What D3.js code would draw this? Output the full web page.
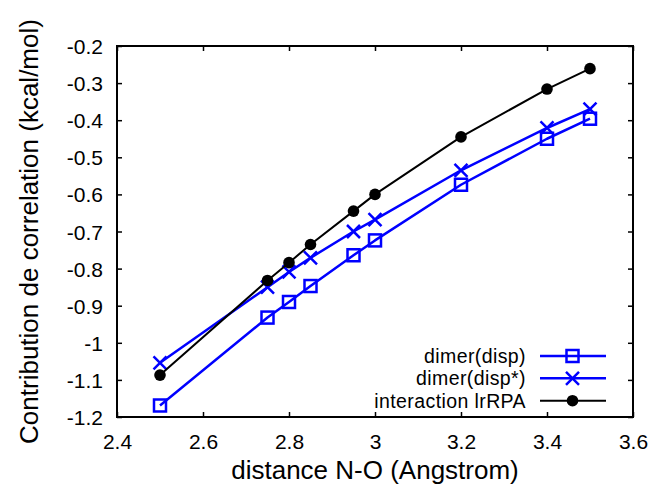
<!DOCTYPE html>
<html><head><meta charset="utf-8">
<script src="https://cdn.jsdelivr.net/npm/d3@7"></script>
<style>body{margin:0;background:#fff}svg{display:block;font-family:"Liberation Sans",Arial,sans-serif}</style>
</head><body><svg id="c" width="651" height="485"></svg>
<script>
const distances = [2.5, 2.75, 2.8, 2.85, 2.95, 3.0, 3.2, 3.4, 3.5];
const dimerDisp = [-1.169, -0.932, -0.89, -0.847, -0.764, -0.724, -0.574, -0.45, -0.396];
const dimerDispStar = [-1.054, -0.85, -0.809, -0.771, -0.70, -0.668, -0.535, -0.421, -0.37];
const interactionLrRPA = [-1.087, -0.832, -0.784, -0.735, -0.645, -0.60, -0.445, -0.316, -0.261];
const xTicks = [2.4, 2.6, 2.8, 3.0, 3.2, 3.4, 3.6];
const xTickLabels = ["2.4", "2.6", "2.8", "3", "3.2", "3.4", "3.6"];
const yTicks = [-1.2, -1.1, -1.0, -0.9, -0.8, -0.7, -0.6, -0.5, -0.4, -0.3, -0.2];
const yTickLabels = ["-1.2", "-1.1", "-1", "-0.9", "-0.8", "-0.7", "-0.6", "-0.5", "-0.4", "-0.3", "-0.2"];
const seriesNames = ["dimer(disp)", "dimer(disp*)", "interaction lrRPA"];

const series = [
  {name: seriesNames[0], values: dimerDisp, color: "#0000ff", marker: "square", width: 2.5},
  {name: seriesNames[1], values: dimerDispStar, color: "#0000ff", marker: "cross", width: 2.5},
  {name: seriesNames[2], values: interactionLrRPA, color: "#000000", marker: "circle", width: 2}
];

const L = 117, R = 633, T = 46, B = 417;
const svg = d3.select("#c");
const x = d3.scaleLinear().domain([2.4, 3.6]).range([L, R]);
const y = d3.scaleLinear().domain([-1.2, -0.2]).range([B, T]);

const fs = 21;
const gB = svg.append("g").attr("transform", `translate(0,${B})`)
  .call(d3.axisBottom(x).tickValues(xTicks).tickSize(-5).tickPadding(14).tickFormat((d,i)=>xTickLabels[i]));
const gT = svg.append("g").attr("transform", `translate(0,${T})`)
  .call(d3.axisTop(x).tickValues(xTicks).tickSize(-5).tickFormat(""));
const gL = svg.append("g").attr("transform", `translate(${L},0)`)
  .call(d3.axisLeft(y).tickValues(yTicks).tickSize(-5).tickPadding(14).tickFormat((d,i)=>yTickLabels[i]));
const gR = svg.append("g").attr("transform", `translate(${R},0)`)
  .call(d3.axisRight(y).tickValues(yTicks).tickSize(-5).tickFormat(""));
[gB,gT,gL,gR].forEach(g=>{
  g.select(".domain").remove();
  g.selectAll(".tick line").attr("stroke","#000").attr("stroke-width",1.5);
  g.selectAll(".tick text").attr("font-size",fs).attr("fill","#000").attr("font-family","Liberation Sans, Arial, sans-serif");
});
gB.selectAll(".tick text").attr("dy",null).attr("y",32);
gL.selectAll(".tick text").attr("dy","0.36em");
svg.append("rect").attr("x",L).attr("y",T).attr("width",R-L).attr("height",B-T)
  .attr("fill","none").attr("stroke","#000").attr("stroke-width",2);

svg.append("text").attr("x",(L+R)/2).attr("y",479).attr("text-anchor","middle")
  .attr("font-size",26).text("distance N-O (Angstrom)");
svg.append("text").attr("transform",`translate(38,${(T+B)/2}) rotate(-90)`).attr("text-anchor","middle")
  .attr("font-size",26).text("Contribution de correlation (kcal/mol)");

function drawMarker(g, type, cx, cy, color){
  if(type==="square"){
    g.append("rect").attr("x",cx-6).attr("y",cy-6).attr("width",12).attr("height",12)
      .attr("fill","none").attr("stroke",color).attr("stroke-width",2.5);
  } else if(type==="cross"){
    const s=6.5;
    g.append("path").attr("d",`M${cx-s},${cy-s}L${cx+s},${cy+s}M${cx-s},${cy+s}L${cx+s},${cy-s}`)
      .attr("stroke",color).attr("stroke-width",2.5).attr("fill","none");
  } else {
    g.append("circle").attr("cx",cx).attr("cy",cy).attr("r",5.8).attr("fill",color);
  }
}

const line = d3.line().x(d=>x(d[0])).y(d=>y(d[1]));
series.forEach(s=>{
  const pts = distances.map((d,i)=>[d, s.values[i]]);
  const g = svg.append("g");
  g.append("path").datum(pts).attr("d",line).attr("fill","none")
    .attr("stroke",s.color).attr("stroke-width",s.width).attr("stroke-linejoin","round");
  pts.forEach(p=>drawMarker(g, s.marker, x(p[0]), y(p[1]), s.color));
});

const legY = [356, 378.3, 400.7];
series.forEach((s,i)=>{
  const g = svg.append("g");
  g.append("text").attr("x",526).attr("y",legY[i]+7).attr("text-anchor","end")
    .attr("font-size",19.5).attr("letter-spacing","0.4px").text(s.name);
  g.append("line").attr("x1",540).attr("x2",606).attr("y1",legY[i]).attr("y2",legY[i])
    .attr("stroke",s.color).attr("stroke-width",s.width);
  drawMarker(g, s.marker, 572.5, legY[i], s.color);
});
</script></body></html>
